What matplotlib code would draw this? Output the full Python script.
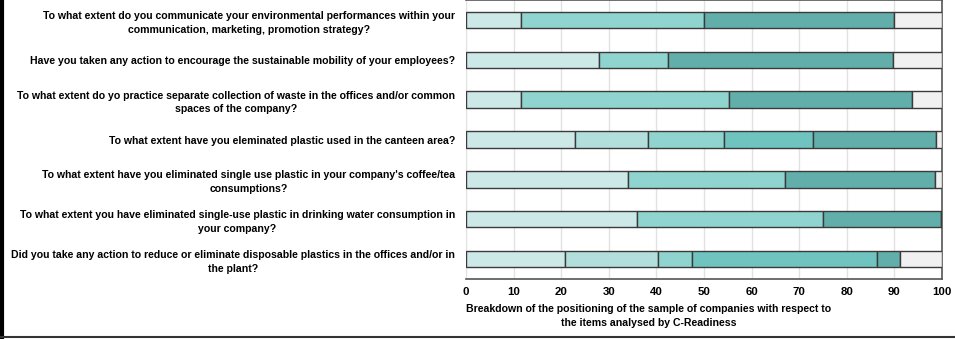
import matplotlib.pyplot as plt
import numpy as np
from matplotlib.lines import Line2D

plt.rcParams['font.family'] = ['Liberation Sans', 'DejaVu Sans']
plt.rcParams['font.weight'] = 'bold'

# questions, top to bottom
questions = [
    "To what extent do you communicate your environmental performances within your\ncommunication, marketing, promotion strategy?",
    "Have you taken any action to encourage the sustainable mobility of your employees?",
    "To what extent do yo practice separate collection of waste in the offices and/or common\nspaces of the company?",
    "To what extent have you eleminated plastic used in the canteen area?",
    "To what extent have you eliminated single use plastic in your company's coffee/tea\nconsumptions?",
    "To what extent you have eliminated single-use plastic in drinking water consumption in\nyour company?",
    "Did you take any action to reduce or eliminate disposable plastics in the offices and/or in\nthe plant?",
]

# share of companies (%) per readiness level
level1 = [11.5, 27.9, 11.5, 22.8, 34.0, 35.9, 20.9]
level2 = [0.0, 0.0, 0.0, 15.5, 0.0, 0.0, 19.5]
level3 = [38.4, 14.6, 43.8, 15.8, 33.1, 39.0, 7.0]
level4 = [0.0, 0.0, 0.0, 18.9, 0.0, 0.0, 39.0]
level5 = [40.0, 47.3, 38.3, 25.7, 31.4, 24.8, 4.8]
no_answer = [10.2, 10.2, 6.4, 1.3, 1.5, 0.3, 8.8]

series = [level1, level2, level3, level4, level5, no_answer]
colors = ["#cde9e7", "#b2dfdc", "#8fd4cf", "#6fc4c0", "#62aeab", "#f0f0f0"]

fig = plt.figure(figsize=(9.55, 3.39), dpi=100)
ax = fig.add_axes([466 / 955, 1 - 279 / 339, 476 / 955, 279 / 339])

y = np.arange(len(questions))
left = np.zeros(len(questions))
for vals, col in zip(series, colors):
    vals = np.array(vals)
    m = vals > 0
    ax.barh(y[m], vals[m], left=left[m], height=0.41, color=col,
            edgecolor="#3a3a3a", linewidth=1.0, zorder=3)
    left += vals

ax.set_xlim(0, 100)
ax.set_ylim(len(questions) - 0.5, -0.5)
ax.set_xticks(np.arange(0, 101, 10))
ax.set_yticks(y)
ax.set_yticklabels(questions, fontsize=7.6, fontweight='bold', ha='right',
                   multialignment='center', linespacing=1.45)
ax.tick_params(axis='both', length=0)
ax.tick_params(axis='y', pad=8)
ax.tick_params(axis='x', pad=6, labelsize=8.2)
for lab in ax.get_xticklabels():
    lab.set_fontweight('bold')

ax.grid(axis='x', color="#e2e2e2", linewidth=1.0, zorder=0)
ax.spines['left'].set_visible(False)
for s in ['top', 'right', 'bottom']:
    ax.spines[s].set_color("#555555")
    ax.spines[s].set_linewidth(1.2)

ax.text(0, -0.09,
        "Breakdown of the positioning of the sample of companies with respect to\nthe items analysed by C-Readiness",
        transform=ax.transAxes, ha='left', va='top', multialignment='center',
        fontsize=7.6, fontweight='bold', linespacing=1.45)

# outer frame lines
fig.add_artist(Line2D([0.002, 0.002], [0, 1], color='black', linewidth=3))
fig.add_artist(Line2D([0, 1], [0.005, 0.005], color='#333333', linewidth=1.5))

fig.savefig("out.png", dpi=100)
